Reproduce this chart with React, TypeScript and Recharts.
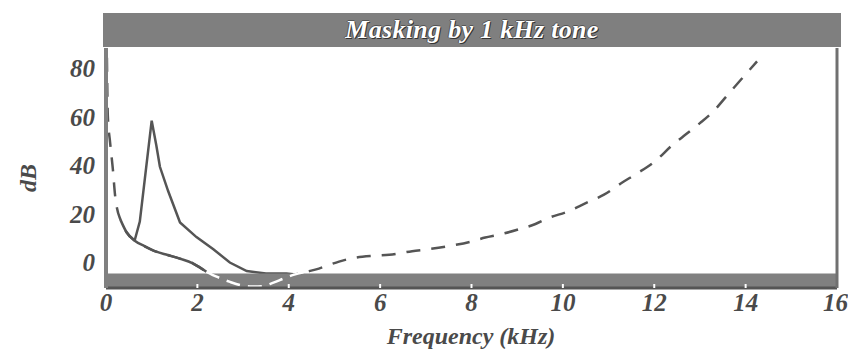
import { LineChart, Line, XAxis, YAxis, ReferenceArea } from 'recharts';

// threshold in quiet (kHz, dB)
const quietFreq = [0.02, 0.04, 0.09, 0.15, 0.2, 0.24, 0.32, 0.45, 0.63, 0.85, 1.1, 1.35, 1.6, 1.9, 2.05, 2.2, 2.42, 2.7, 2.93, 3.2, 3.42, 3.65, 3.9, 4.1, 4.39, 4.6, 4.85, 5.1, 5.45, 5.85, 6.2, 6.7, 7.1, 7.6, 8.0, 8.3, 8.6, 9.0, 9.4, 9.7, 10.1, 10.5, 10.9, 11.3, 11.6, 12.0, 12.4, 12.7, 13.0, 13.3, 13.6, 13.9, 14.25];
const quietDb = [86, 62, 51, 40, 29, 24, 19, 14, 10.5, 8.2, 6, 4.6, 3.2, 1.2, -0.5, -2.3, -4.3, -6.4, -7.8, -8.4, -8.3, -6.9, -5, -3.6, -2.3, -1.3, 0.3, 1.9, 3.5, 4.3, 4.7, 6.2, 7.1, 8.6, 10.2, 11.8, 13, 15, 17.4, 20, 22.5, 26, 29.5, 34.5, 38, 43, 50, 54.5, 59, 64, 70.5, 77, 84.5];

// masked threshold around the 1 kHz tone (kHz, dB)
const maskFreq = [0.63, 0.74, 0.85, 1.0, 1.1, 1.18, 1.36, 1.62, 1.98, 2.35, 2.71, 3.08, 3.5, 3.95, 4.1];
const maskDb = [10.8, 18.4, 36, 60, 50, 41, 31, 18, 12, 7, 1.5, -2, -3, -3, -3.3];

const xTicks = [0, 2, 4, 6, 8, 10, 12, 14, 16];
const yTicks = [0, 20, 40, 60, 80];
const yMinorTicks = [10, 20, 30, 40, 50, 60, 70, 80];

const Y_DOMAIN: [number, number] = [-9, 90];
const BAND: [number, number] = [-9, -3];

const quietData = quietFreq.map((f, i) => ({ f, db: quietDb[i] }));
const maskData = maskFreq.map((f, i) => ({ f, db: maskDb[i] }));
// stretch of the quiet threshold that reads as a solid line under the peak
const quietSolid = quietData.filter((d) => d.f >= 0.32 && d.f <= 2.2);
// stretch that dips into the grey band, drawn in white
const quietLow = quietData.filter((d) => d.f >= 2.2 && d.f <= 4.39);

const serif = '"Liberation Serif", "DejaVu Serif", serif';
const ink = '#4a4a4a';

const noTick = () => <g />;

export default function App() {
    return (
        <div style={{ position: 'absolute', left: 0, top: 0, width: 848, height: 354, background: '#fff', overflow: 'hidden' }}>
            <div
                style={{
                    position: 'absolute',
                    left: 103,
                    top: 13,
                    width: 738,
                    height: 34,
                    background: '#7f7f7f',
                    color: '#fff',
                    fontFamily: serif,
                    fontStyle: 'italic',
                    fontWeight: 'bold',
                    fontSize: 26,
                    lineHeight: '34px',
                    letterSpacing: 0.3,
                    textAlign: 'center',
                    textShadow: '1px 1px 0 #333, -1px 0 0 #555, 0 -1px 0 #555',
                }}
            >
                Masking by 1 kHz tone
            </div>

            <LineChart
                width={848}
                height={354}
                margin={{ top: 48, right: 11, bottom: 26, left: 0 }}
                style={{ position: 'absolute', left: 0, top: 0 }}
            >
                <XAxis
                    xAxisId="bottom"
                    dataKey="f"
                    type="number"
                    domain={[0, 16]}
                    ticks={xTicks}
                    height={40}
                    tickSize={-4}
                    tickMargin={9}
                    axisLine={{ stroke: '#555', strokeWidth: 3 }}
                    tickLine={{ stroke: '#fff', strokeWidth: 2 }}
                    tick={{ fill: ink, fontFamily: serif, fontStyle: 'italic', fontWeight: 'bold', fontSize: 25 }}
                    allowDataOverflow
                />
                <XAxis
                    xAxisId="top"
                    orientation="top"
                    dataKey="f"
                    type="number"
                    domain={[0, 16]}
                    ticks={xTicks}
                    height={0}
                    tickSize={3}
                    axisLine={{ stroke: '#666', strokeWidth: 2 }}
                    tickLine={{ stroke: '#555' }}
                    tick={noTick}
                />
                <YAxis
                    yAxisId="left"
                    type="number"
                    domain={Y_DOMAIN}
                    ticks={yTicks}
                    width={106}
                    tickSize={6}
                    tickMargin={5}
                    tickLine={false}
                    axisLine={{ stroke: '#808080', strokeWidth: 4 }}
                    tick={{ fill: ink, fontFamily: serif, fontStyle: 'italic', fontWeight: 'bold', fontSize: 25, dy: -4 }}
                    allowDataOverflow
                />
                <YAxis
                    yAxisId="leftMinor"
                    orientation="left"
                    mirror
                    type="number"
                    domain={Y_DOMAIN}
                    ticks={yMinorTicks}
                    tickSize={4}
                    axisLine={false}
                    tickLine={{ stroke: '#666', strokeWidth: 1.5 }}
                    tick={noTick}
                />
                <YAxis
                    yAxisId="right"
                    orientation="right"
                    mirror
                    type="number"
                    domain={Y_DOMAIN}
                    ticks={yMinorTicks}
                    tickSize={4}
                    axisLine={{ stroke: '#707070', strokeWidth: 3 }}
                    tickLine={{ stroke: '#555', strokeWidth: 1.5 }}
                    tick={noTick}
                />

                <Line
                    xAxisId="bottom"
                    yAxisId="left"
                    data={quietData}
                    dataKey="db"
                    type="monotone"
                    stroke="#555"
                    strokeWidth={2.5}
                    strokeDasharray="14 11"
                    dot={false}
                    isAnimationActive={false}
                />
                <Line
                    xAxisId="bottom"
                    yAxisId="left"
                    data={quietSolid}
                    dataKey="db"
                    type="monotone"
                    stroke="#555"
                    strokeWidth={2.5}
                    dot={false}
                    isAnimationActive={false}
                />
                <Line
                    xAxisId="bottom"
                    yAxisId="left"
                    data={maskData}
                    dataKey="db"
                    type="linear"
                    stroke="#555"
                    strokeWidth={2.5}
                    dot={false}
                    isAnimationActive={false}
                />
                <ReferenceArea
                    xAxisId="bottom"
                    yAxisId="left"
                    x1={0}
                    x2={16}
                    y1={BAND[0]}
                    y2={BAND[1]}
                    fill="#808080"
                    fillOpacity={1}
                    stroke="none"
                    zIndex={450}
                />
                <Line
                    xAxisId="bottom"
                    yAxisId="left"
                    data={quietLow}
                    dataKey="db"
                    type="monotone"
                    stroke="#fff"
                    strokeWidth={2.5}
                    strokeDasharray="14 8"
                    dot={false}
                    isAnimationActive={false}
                    zIndex={460}
                />
            </LineChart>

            <div
                style={{
                    position: 'absolute',
                    left: 10,
                    top: 160,
                    width: 36,
                    height: 36,
                    transform: 'rotate(-90deg)',
                    fontFamily: serif,
                    fontStyle: 'italic',
                    fontWeight: 'bold',
                    fontSize: 24,
                    lineHeight: '36px',
                    textAlign: 'center',
                    color: ink,
                }}
            >
                dB
            </div>
            <div
                style={{
                    position: 'absolute',
                    left: 271,
                    top: 322,
                    width: 400,
                    fontFamily: serif,
                    fontStyle: 'italic',
                    fontWeight: 'bold',
                    fontSize: 24,
                    lineHeight: '28px',
                    textAlign: 'center',
                    color: ink,
                }}
            >
                Frequency (kHz)
            </div>
        </div>
    );
}
